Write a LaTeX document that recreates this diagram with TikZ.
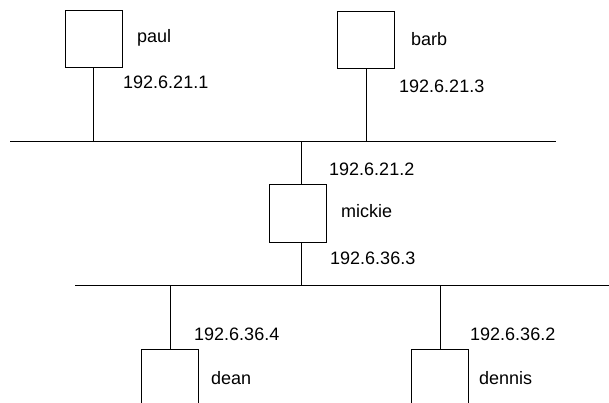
\documentclass[tikz,border=0pt]{standalone}
\usepackage{fontspec}
\setmainfont{Liberation Sans}
\begin{document}
\begin{tikzpicture}[x=1pt,y=-1pt,
  host/.style={draw,line width=0.9pt,minimum width=57pt,minimum height=57pt,inner sep=0pt,anchor=north west},
  lbl/.style={anchor=base west,inner sep=0pt,font=\fontsize{18}{21}\selectfont},
  wire/.style={line width=0.9pt}]
\useasboundingbox (0,0) rectangle (609,402);
% hosts
\node[host] (paul) at (65,10) {};
\node[host] (barb) at (337,11) {};
\node[host,minimum height=58pt] (mickie) at (269,184) {};
\node[host] (dean) at (141,349) {};
\node[host] (dennis) at (411,349) {};
% buses
\coordinate (b1l) at (10,141);
\coordinate (b1r) at (556,141);
\coordinate (b2l) at (75,285);
\coordinate (b2r) at (609,285);
\draw[wire] (b1l) -- (b1r);
\draw[wire] (b2l) -- (b2r);
% stems
\draw[wire] ([xshift=-1pt]paul.south) -- ([xshift=-1pt]paul.south |- b1l);
\draw[wire] (barb.south) -- (barb.south |- b1l);
\draw[wire] ([xshift=3pt]mickie.north) -- ([xshift=3pt]mickie.north |- b1l);
\draw[wire] ([xshift=3pt]mickie.south) -- ([xshift=3pt]mickie.south |- b2l);
\draw[wire] (dean.north) -- (dean.north |- b2l);
\draw[wire] (dennis.north) -- (dennis.north |- b2l);
% labels
\node[lbl] (lpaul) at (137,42) {paul};
\node[lbl] (ipaul) at (123,88) {192.6.21.1};
\node[lbl] (lbarb) at (411,45) {barb};
\node[lbl] (ibarb) at (399,92) {192.6.21.3};
\node[lbl] (imick1) at (329,175) {192.6.21.2};
\node[lbl] (lmick) at (341,217) {mickie};
\node[lbl] (imick2) at (330,264) {192.6.36.3};
\node[lbl] (idean) at (194,340) {192.6.36.4};
\node[lbl] (ldean) at (211,384) {dean};
\node[lbl] (idennis) at (470,340) {192.6.36.2};
\node[lbl] (ldennis) at (479,384) {dennis};
\end{tikzpicture}
\end{document}
